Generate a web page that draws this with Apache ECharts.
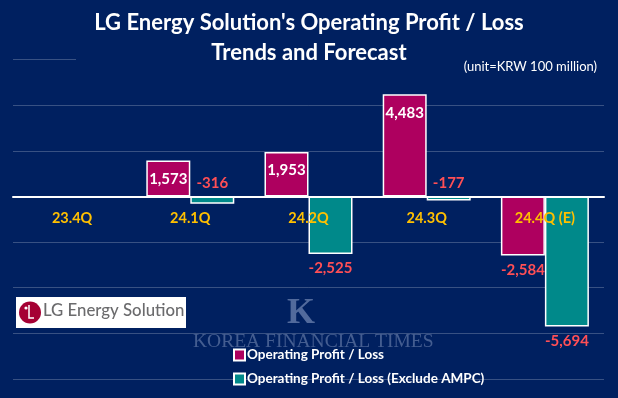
<!DOCTYPE html>
<html>
<head>
<meta charset="utf-8">
<script src="https://cdn.jsdelivr.net/npm/echarts@6/dist/echarts.min.js"></script>
<style>
  html, body { margin: 0; padding: 0; background: #002060; }
  #chart { width: 618px; height: 398px; }
</style>
</head>
<body>
<div id="chart"></div>
<script>
const categories = ['23.4Q', '24.1Q', '24.2Q', '24.3Q', '24.4Q (E)'];
const operatingProfit = [null, 1573, 1953, 4483, -2584];
const operatingProfitExAmpc = [null, -316, -2525, -177, -5694];

const NAVY = '#002060';
const PINK = '#AE005F';
const TEAL = '#00898A';
const GOLD = '#FFC000';
const RED = '#FF4F55';
const FONT = 'Lato, "Noto Sans", sans-serif';

// label placement depends on sign / size of the value
function toItems(values) {
  return values.map(v => {
    if (v == null) return '-';
    let label;
    if (v >= 0) {
      label = { position: 'insideTop', distance: 11, color: '#fff' };
    } else if (v > -1000) {
      label = { position: 'top', distance: 6, color: RED };
    } else {
      label = { position: 'bottom', distance: 7, color: RED };
    }
    return { value: v, label };
  });
}

const chart = echarts.init(document.getElementById('chart'));

const barLabel = {
  show: true,
  fontFamily: FONT,
  fontSize: 15,
  fontWeight: 'bold',
  formatter: p => p.value.toLocaleString('en-US'),
};

chart.setOption({
  backgroundColor: NAVY,
  animation: false,
  title: {
    text: "LG Energy Solution's Operating Profit / Loss\nTrends and Forecast",
    left: 'center',
    top: 3,
    z: 10,
    textStyle: { color: '#fff', fontFamily: FONT, fontSize: 22, fontWeight: 'bold', lineHeight: 30 },
  },
  legend: {
    orient: 'vertical',
    left: 233,
    top: 348,
    padding: 0,
    itemWidth: 11,
    itemHeight: 11,
    itemGap: 10,
    icon: 'rect',
    z: 10,
    textStyle: { color: '#fff', fontFamily: FONT, fontSize: 13.5, fontWeight: 'bold', padding: [0, 0, 0, -3] },
  },
  grid: { left: 13, right: 14, top: 59.6, bottom: 19, outerBoundsMode: 'none' },
  xAxis: {
    type: 'category',
    data: categories,
    z: 10,
    axisTick: { show: false },
    axisLine: { onZero: true, lineStyle: { color: '#fff', width: 2 } },
    // labels sit just under the zero line, not at the grid bottom
    axisLabel: { color: GOLD, fontFamily: FONT, fontSize: 14.5, fontWeight: 'bold', margin: -168 },
  },
  yAxis: {
    type: 'value',
    min: -8000,
    max: 6000,
    interval: 2000,
    axisLabel: { show: false },
    axisLine: { show: false },
    axisTick: { show: false },
    splitLine: { lineStyle: { color: 'rgba(255,255,255,0.22)', width: 1 } },
  },
  series: [
    {
      name: 'Operating Profit / Loss',
      type: 'bar',
      barWidth: 44,
      barGap: '0%',
      data: toItems(operatingProfit),
      itemStyle: { color: PINK, borderColor: '#fff', borderWidth: 1.5 },
      label: barLabel,
    },
    {
      name: 'Operating Profit / Loss (Exclude AMPC)',
      type: 'bar',
      barWidth: 44,
      barGap: '0%',
      data: toItems(operatingProfitExAmpc),
      itemStyle: { color: TEAL, borderColor: '#fff', borderWidth: 1.5 },
      label: barLabel,
    },
  ],
  graphic: [
    // hides most of the top gridline behind the title block
    { type: 'rect', z: 5, shape: { x: 76, y: 56, width: 540, height: 7 }, style: { fill: NAVY } },
    {
      type: 'text', z: 11, right: 21, top: 60,
      style: { text: '(unit=KRW 100 million)', fill: '#fff', font: '13px ' + FONT },
    },
    // watermark
    {
      type: 'text', z: 1, left: 287, top: 296,
      style: { text: 'K', fill: 'rgba(150,168,205,0.55)', font: 'bold 36px "Liberation Serif", serif' },
    },
    {
      type: 'text', z: 1, left: 193, top: 332,
      style: { text: 'KOREA FINANCIAL TIMES', fill: 'rgba(150,168,205,0.45)', font: '19.5px "Liberation Serif", serif' },
    },
    // LG Energy Solution logo box
    { type: 'rect', z: 3, shape: { x: 16, y: 297, width: 170, height: 31 }, style: { fill: '#fff' } },
    { type: 'circle', z: 4, shape: { cx: 30, cy: 312.5, r: 11 }, style: { fill: '#A50034' } },
    { type: 'circle', z: 5, shape: { cx: 26, cy: 308, r: 1.6 }, style: { fill: '#fff' } },
    {
      type: 'polyline', z: 5,
      shape: { points: [[29, 305], [29, 318], [34, 318]] },
      style: { stroke: '#fff', lineWidth: 1.5, fill: null },
    },
    {
      type: 'text', z: 4, left: 43, top: 302,
      style: { text: 'LG Energy Solution', fill: '#6B6B6D', font: '500 16.8px Lato, "Noto Sans", sans-serif' },
    },
  ],
});
</script>
</body>
</html>
